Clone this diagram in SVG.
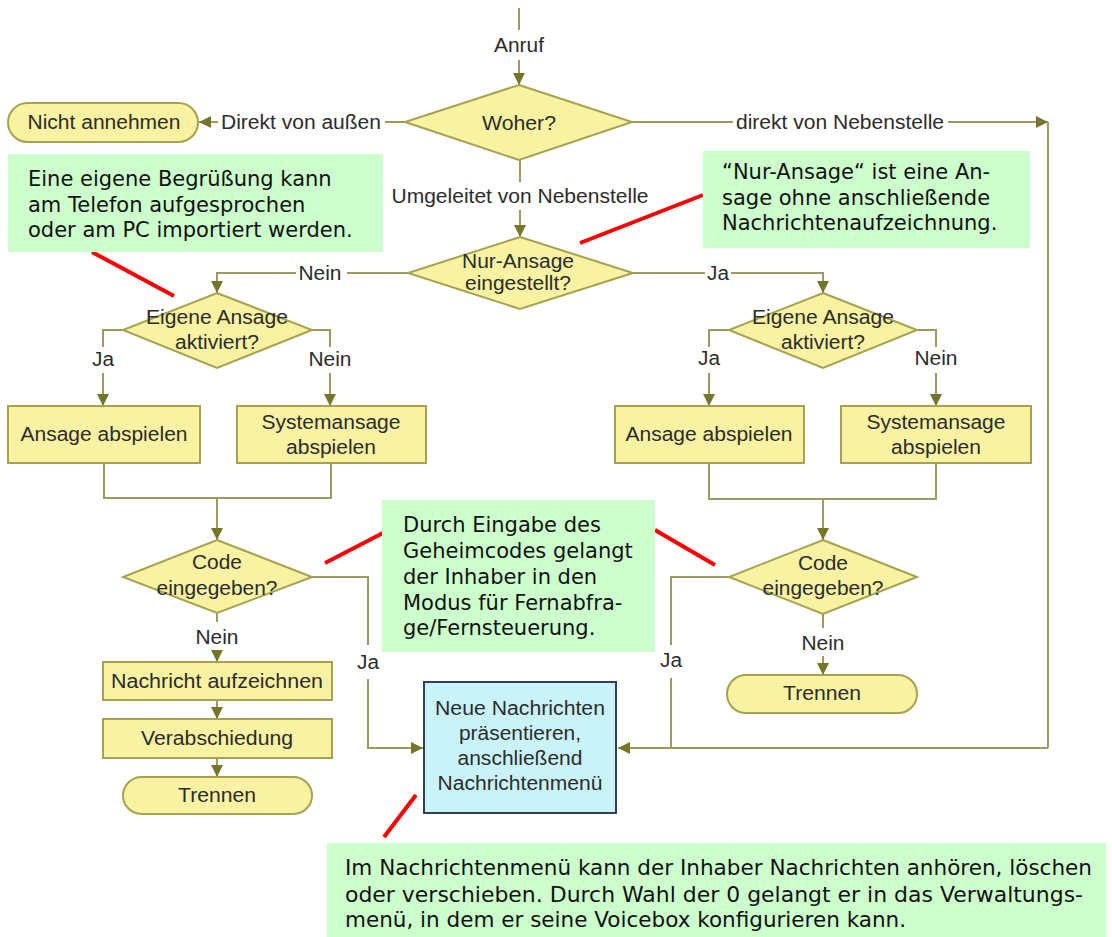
<svg xmlns="http://www.w3.org/2000/svg" width="1112" height="937" viewBox="0 0 1112 937">
<defs>
<marker id="ah" markerUnits="userSpaceOnUse" markerWidth="14" markerHeight="14" refX="12" refY="6" orient="auto">
<path d="M0,0 L12,6 L0,12 z" fill="#76762a"/>
</marker>
<style>
.dec{fill:#f8f2a2;stroke:#a6a24e;stroke-width:2}
.box{fill:#f8f2a2;stroke:#a6a24e;stroke-width:2}
.term{fill:#f8f2a2;stroke:#a6a24e;stroke-width:2}
.msg{fill:#c9f3f9;stroke:#2f4050;stroke-width:2}
.t{font-family:"Liberation Sans",Arial,sans-serif;font-size:19.5px;fill:#2c2c2c;text-anchor:middle}
.c{fill:none;stroke:#9a9a62;stroke-width:2}
.ca{fill:none;stroke:#9a9a62;stroke-width:2;marker-end:url(#ah)}
.note{fill:#ccffcc}
.nt{font-family:"DejaVu Sans",Verdana,sans-serif;font-size:21px;fill:#111}
.red{stroke:#ff0000;stroke-width:4;fill:none}
</style>
</defs>
<rect width="1112" height="937" fill="#ffffff"/>

<g id="connectors">
<path class="c" d="M519,8 V30"/>
<path class="ca" d="M519,60 V85"/>
<path class="c" d="M405,122 H385"/>
<path class="ca" d="M218,122 H199"/>
<path class="c" d="M632,122 H733"/>
<path class="ca" d="M948,122 H1048"/>
<path class="c" d="M1048,122 V748"/>
<path class="c" d="M520,160 V182"/>
<path class="ca" d="M520,210 V237"/>
<path class="c" d="M408,273 H347"/>
<path class="ca" d="M296,273 H217 V293"/>
<path class="c" d="M633,273 H705"/>
<path class="ca" d="M731,273 H823 V293"/>
<path class="c" d="M123,330 H103 V347"/>
<path class="ca" d="M103,373 V406"/>
<path class="c" d="M312,330 H330 V347"/>
<path class="ca" d="M330,373 V406"/>
<path class="c" d="M729,330 H709 V347"/>
<path class="ca" d="M709,373 V406"/>
<path class="c" d="M917,330 H936 V347"/>
<path class="ca" d="M936,373 V406"/>
<path class="c" d="M104,463 V498 H331 V463"/>
<path class="ca" d="M217,498 V540"/>
<path class="c" d="M709,463 V499 H936 V463"/>
<path class="ca" d="M823,499 V540"/>
<path class="c" d="M312,577 H368 V645"/>
<path class="ca" d="M368,679 V748 H423"/>
<path class="c" d="M729,577 H671 V645"/>
<path class="c" d="M671,678 V748"/>
<path class="ca" d="M1048,748 H618"/>
<path class="c" d="M217,613 V622"/>
<path class="ca" d="M217,650 V662"/>
<path class="ca" d="M217,700 V719"/>
<path class="ca" d="M217,758 V777"/>
<path class="c" d="M823,613 V628"/>
<path class="ca" d="M823,656 V675"/>
<text class="t" x="519" y="52" textLength="50" lengthAdjust="spacingAndGlyphs">Anruf</text>
<text class="t" x="301" y="129" textLength="160" lengthAdjust="spacingAndGlyphs">Direkt von außen</text>
<text class="t" x="840" y="129" textLength="208" lengthAdjust="spacingAndGlyphs">direkt von Nebenstelle</text>
<text class="t" x="520" y="203" textLength="257" lengthAdjust="spacingAndGlyphs">Umgeleitet von Nebenstelle</text>
<text class="t" x="320" y="280" textLength="43" lengthAdjust="spacingAndGlyphs">Nein</text>
<text class="t" x="718" y="280" textLength="22" lengthAdjust="spacingAndGlyphs">Ja</text>
<text class="t" x="103" y="366" textLength="22" lengthAdjust="spacingAndGlyphs">Ja</text>
<text class="t" x="330" y="366" textLength="43" lengthAdjust="spacingAndGlyphs">Nein</text>
<text class="t" x="709" y="365" textLength="22" lengthAdjust="spacingAndGlyphs">Ja</text>
<text class="t" x="936" y="365" textLength="43" lengthAdjust="spacingAndGlyphs">Nein</text>
<text class="t" x="368" y="669" textLength="22" lengthAdjust="spacingAndGlyphs">Ja</text>
<text class="t" x="671" y="667" textLength="22" lengthAdjust="spacingAndGlyphs">Ja</text>
<text class="t" x="217" y="644" textLength="43" lengthAdjust="spacingAndGlyphs">Nein</text>
<text class="t" x="823" y="650" textLength="43" lengthAdjust="spacingAndGlyphs">Nein</text>
</g>

<g id="nicht-annehmen">
<rect class="term" x="8" y="103" width="190" height="39" rx="19.5"/>
<text class="t" x="104" y="129" textLength="153" lengthAdjust="spacingAndGlyphs">Nicht annehmen</text>
</g>
<g id="woher">
<polygon class="dec" points="519,85 632,122 519,160 405,122"/>
<text class="t" x="519" y="130" textLength="74" lengthAdjust="spacingAndGlyphs">Woher?</text>
</g>
<g id="nur-ansage">
<polygon class="dec" points="520,237 633,273 520,309 408,273"/>
<text class="t" x="518" y="268" textLength="112" lengthAdjust="spacingAndGlyphs">Nur-Ansage</text>
<text class="t" x="518" y="290" textLength="106" lengthAdjust="spacingAndGlyphs">eingestellt?</text>
</g>
<g id="eigene-links">
<polygon class="dec" points="217,293 312,330 217,368 123,330"/>
<text class="t" x="217" y="324" textLength="142" lengthAdjust="spacingAndGlyphs">Eigene Ansage</text>
<text class="t" x="217" y="349" textLength="84" lengthAdjust="spacingAndGlyphs">aktiviert?</text>
</g>
<g id="eigene-rechts">
<polygon class="dec" points="823,293 917,330 823,368 729,330"/>
<text class="t" x="823" y="324" textLength="142" lengthAdjust="spacingAndGlyphs">Eigene Ansage</text>
<text class="t" x="823" y="349" textLength="84" lengthAdjust="spacingAndGlyphs">aktiviert?</text>
</g>
<g id="ansage-links">
<rect class="box" x="8" y="406" width="192" height="57"/>
<text class="t" x="104" y="441" textLength="167" lengthAdjust="spacingAndGlyphs">Ansage abspielen</text>
</g>
<g id="system-links">
<rect class="box" x="237" y="406" width="189" height="57"/>
<text class="t" x="331" y="429" textLength="139" lengthAdjust="spacingAndGlyphs">Systemansage</text>
<text class="t" x="331" y="454" textLength="90" lengthAdjust="spacingAndGlyphs">abspielen</text>
</g>
<g id="ansage-rechts">
<rect class="box" x="615" y="406" width="189" height="57"/>
<text class="t" x="709" y="441" textLength="167" lengthAdjust="spacingAndGlyphs">Ansage abspielen</text>
</g>
<g id="system-rechts">
<rect class="box" x="841" y="406" width="190" height="57"/>
<text class="t" x="936" y="429" textLength="139" lengthAdjust="spacingAndGlyphs">Systemansage</text>
<text class="t" x="936" y="454" textLength="90" lengthAdjust="spacingAndGlyphs">abspielen</text>
</g>
<g id="code-links">
<polygon class="dec" points="217,540 312,577 217,613 123,577"/>
<text class="t" x="217" y="569" textLength="50" lengthAdjust="spacingAndGlyphs">Code</text>
<text class="t" x="217" y="595" textLength="121" lengthAdjust="spacingAndGlyphs">eingegeben?</text>
</g>
<g id="code-rechts">
<polygon class="dec" points="823,540 917,577 823,614 729,577"/>
<text class="t" x="823" y="570" textLength="50" lengthAdjust="spacingAndGlyphs">Code</text>
<text class="t" x="823" y="595" textLength="121" lengthAdjust="spacingAndGlyphs">eingegeben?</text>
</g>
<g id="aufzeichnen">
<rect class="box" x="103" y="662" width="229" height="38"/>
<text class="t" x="217" y="688" textLength="212" lengthAdjust="spacingAndGlyphs">Nachricht aufzeichnen</text>
</g>
<g id="verabschiedung">
<rect class="box" x="103" y="719" width="229" height="39"/>
<text class="t" x="217" y="745" textLength="152" lengthAdjust="spacingAndGlyphs">Verabschiedung</text>
</g>
<g id="trennen-links">
<rect class="term" x="123" y="777" width="189" height="37" rx="18.5"/>
<text class="t" x="217" y="802" textLength="78" lengthAdjust="spacingAndGlyphs">Trennen</text>
</g>
<g id="trennen-rechts">
<rect class="term" x="727" y="675" width="190" height="38" rx="19"/>
<text class="t" x="822" y="700" textLength="78" lengthAdjust="spacingAndGlyphs">Trennen</text>
</g>
<g id="neue-nachrichten">
<rect class="msg" x="424" y="682" width="192" height="131"/>
<text class="t" x="520" y="715" textLength="170" lengthAdjust="spacingAndGlyphs">Neue Nachrichten</text>
<text class="t" x="520" y="740" textLength="122" lengthAdjust="spacingAndGlyphs">präsentieren,</text>
<text class="t" x="520" y="765" textLength="125" lengthAdjust="spacingAndGlyphs">anschließend</text>
<text class="t" x="520" y="790" textLength="165" lengthAdjust="spacingAndGlyphs">Nachrichtenmenü</text>
</g>

<g id="notiz-begruessung">
<line class="red" x1="92" y1="252" x2="174" y2="296"/>
<rect class="note" x="8" y="154" width="375" height="98"/>
<text class="nt" x="28" y="186">Eine eigene Begrüßung kann</text>
<text class="nt" x="28" y="212">am Telefon aufgesprochen</text>
<text class="nt" x="28" y="237">oder am PC importiert werden.</text>
</g>
<g id="notiz-nur-ansage">
<line class="red" x1="580" y1="243" x2="703" y2="195"/>
<rect class="note" x="703" y="151" width="327" height="97"/>
<text class="nt" x="722" y="179">“Nur-Ansage“ ist eine An-</text>
<text class="nt" x="722" y="205">sage ohne anschließende</text>
<text class="nt" x="722" y="230">Nachrichtenaufzeichnung.</text>
</g>
<g id="notiz-geheimcode">
<line class="red" x1="325" y1="563" x2="383" y2="533"/>
<line class="red" x1="655" y1="530" x2="715" y2="565"/>
<rect class="note" x="382" y="500" width="273" height="152"/>
<text class="nt" x="403" y="532">Durch Eingabe des</text>
<text class="nt" x="403" y="558">Geheimcodes gelangt</text>
<text class="nt" x="403" y="584">der Inhaber in den</text>
<text class="nt" x="403" y="610">Modus für Fernabfra-</text>
<text class="nt" x="403" y="635">ge/Fernsteuerung.</text>
</g>
<g id="notiz-menue">
<line class="red" x1="416" y1="795" x2="384" y2="837"/>
<rect class="note" x="327" y="843" width="779" height="94"/>
<text class="nt" x="345" y="875" textLength="747" lengthAdjust="spacingAndGlyphs">Im Nachrichtenmenü kann der Inhaber Nachrichten anhören, löschen</text>
<text class="nt" x="345" y="902" textLength="738" lengthAdjust="spacingAndGlyphs">oder verschieben. Durch Wahl der 0 gelangt er in das Verwaltungs-</text>
<text class="nt" x="345" y="927" textLength="561" lengthAdjust="spacingAndGlyphs">menü, in dem er seine Voicebox konfigurieren kann.</text>
</g>
</svg>
